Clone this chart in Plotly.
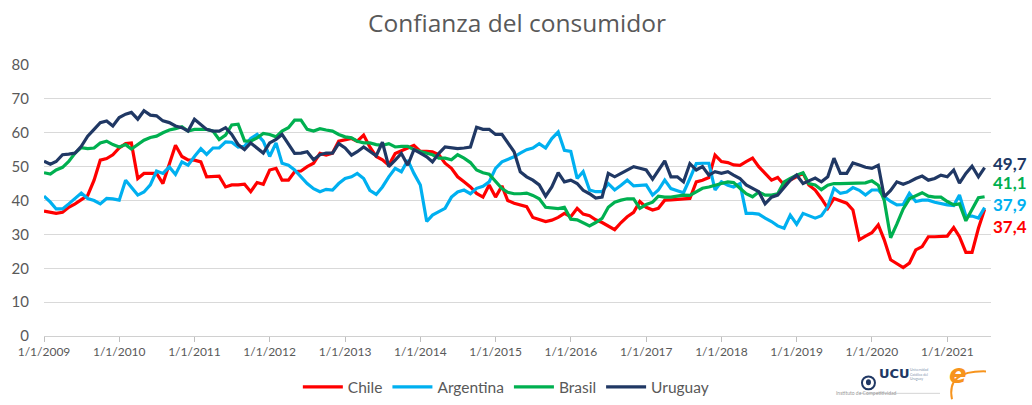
import pandas as pd
import plotly.graph_objects as go

# ---------------- data (monthly, Jan-2009 .. Jul-2021) ----------------
chile = [
    36.9, 36.5, 36.2, 36.5, 38.0, 39.0, 40.1, 41.5, 46.0, 51.9, 52.4, 53.5,
    55.5, 56.8, 57.0, 46.5, 48.0, 48.0, 48.0, 45.0, 50.4, 56.3, 53.0, 52.0,
    51.9, 51.4, 47.0, 47.2, 47.2, 44.0, 44.6, 44.6, 44.8, 42.6, 45.3, 44.8,
    49.0, 49.5, 46.0, 46.0, 48.5, 48.7, 50.0, 51.0, 53.9, 53.4, 54.0, 57.5,
    57.8, 58.3, 57.5, 59.3, 55.8, 53.0, 52.0, 50.4, 53.9, 54.8, 55.5, 56.3,
    54.5, 54.5, 54.4, 53.5, 51.0, 49.5, 47.0, 45.5, 44.0, 42.1, 41.0, 44.6,
    41.0, 44.3, 40.0, 39.2, 38.7, 38.2, 35.0, 34.5, 33.8, 34.2, 35.0, 36.2,
    35.2, 37.7, 36.0, 35.5, 34.3, 33.5, 32.5, 31.4, 33.5, 35.2, 36.5, 39.7,
    38.0, 37.2, 37.7, 40.1, 40.2, 40.4, 40.5, 40.6, 45.5, 46.0, 46.8, 53.4,
    51.5, 51.2, 50.5, 50.4, 51.5, 52.5, 50.0, 48.0, 46.0, 46.8, 44.6, 46.0,
    47.0, 48.0, 44.6, 43.1, 40.6, 37.7, 40.6, 40.0, 39.2, 37.2, 28.4, 29.5,
    30.5, 32.8, 28.4, 22.5, 21.5, 20.2, 21.5, 25.4, 26.4, 29.3, 29.3, 29.5,
    29.5, 32.0, 29.3, 24.7, 24.7, 31.8, 37.4,
]
argentina = [
    41.3, 39.5, 37.5, 37.5, 39.0, 40.5, 42.2, 40.6, 40.0, 39.0, 40.6, 40.5,
    40.1, 46.0, 44.0, 41.6, 42.5, 44.6, 48.7, 48.0, 49.9, 47.7, 51.4, 50.4,
    53.0, 55.3, 53.6, 55.5, 55.5, 57.3, 57.2, 55.8, 56.0, 58.3, 59.5, 57.5,
    53.0, 57.0, 51.0, 50.4, 49.0, 47.0, 45.0, 43.5, 42.6, 43.3, 43.1, 45.0,
    46.5, 47.0, 48.0, 46.5, 43.0, 41.8, 44.0, 47.0, 49.5, 48.5, 51.9, 48.0,
    44.6, 33.8, 35.7, 36.7, 37.7, 41.0, 42.5, 43.1, 42.0, 43.6, 44.2, 45.5,
    49.5, 51.4, 52.0, 52.9, 54.0, 55.0, 55.5, 56.8, 55.5, 58.3, 60.2, 54.8,
    54.5, 46.5, 48.5, 43.1, 42.6, 42.6, 45.0, 43.1, 44.5, 46.0, 44.3, 44.5,
    44.6, 41.6, 43.1, 46.0, 43.5, 42.9, 42.3, 46.5, 50.9, 51.0, 51.0, 43.1,
    45.5, 44.5, 44.0, 45.0, 36.2, 36.2, 36.0, 34.8, 33.8, 32.5, 31.8, 35.7,
    33.0, 36.2, 35.5, 34.8, 35.5, 38.2, 43.6, 42.1, 42.5, 43.8, 43.0, 41.6,
    43.1, 43.1, 41.1, 39.7, 38.7, 38.8, 42.1, 39.7, 40.1, 40.1, 39.5, 39.0,
    38.7, 38.5, 41.6, 35.4, 35.4, 34.8, 37.9,
]
brasil = [
    48.2, 47.8, 49.0, 49.8, 51.5, 54.0, 55.6, 55.3, 55.5, 57.0, 57.5, 56.5,
    55.8, 56.5, 55.2, 56.5, 57.8, 58.6, 59.0, 60.0, 60.8, 61.2, 61.8, 60.5,
    61.0, 61.0, 61.0, 60.5, 58.0, 59.3, 62.3, 62.5, 57.6, 57.5, 58.5, 59.8,
    59.5, 58.8, 60.5, 61.5, 63.7, 63.7, 61.0, 60.5, 61.2, 60.8, 60.5, 59.5,
    58.8, 58.5, 57.5, 57.0, 57.0, 56.5, 56.3, 56.8, 55.8, 56.0, 56.0, 55.0,
    54.5, 54.0, 53.5, 52.5, 52.5, 52.0, 53.5, 52.5, 51.2, 49.0, 48.2, 47.8,
    45.5, 43.5, 42.4, 42.0, 42.0, 42.2, 41.5, 40.5, 38.0, 37.7, 37.6, 38.0,
    34.5, 34.3, 33.5, 32.5, 33.5, 34.7, 38.0, 39.5, 40.1, 40.5, 40.5, 37.7,
    38.8, 39.5, 41.3, 41.0, 41.0, 41.3, 41.6, 41.5, 42.5, 43.6, 44.0, 44.6,
    45.0, 45.5, 45.3, 43.6, 42.0, 41.1, 42.5, 41.6, 41.6, 42.0, 45.5, 46.5,
    47.5, 48.2, 45.0, 44.6, 43.2, 44.5, 45.0, 45.0, 45.0, 45.0, 45.0, 45.2,
    45.8, 44.5, 40.0, 29.0, 33.0, 37.5, 40.5, 41.5, 42.3, 41.3, 41.0, 41.0,
    39.7, 38.7, 39.0, 34.0, 37.5, 40.8, 41.1,
]
uruguay = [
    51.6, 50.7, 51.5, 53.5, 53.7, 54.0, 56.0, 59.0, 61.0, 63.0, 63.5, 62.0,
    64.5, 65.5, 66.0, 64.0, 66.5, 65.2, 65.0, 63.5, 63.0, 62.0, 61.5, 60.5,
    64.0, 62.5, 61.0, 60.5, 60.5, 61.5, 59.5, 56.5, 55.0, 57.0, 55.5, 54.0,
    57.0, 58.0, 59.5, 56.5, 53.9, 54.0, 54.4, 52.0, 53.5, 54.0, 54.0, 56.8,
    55.5, 53.4, 54.4, 55.8, 54.5, 53.2, 57.2, 50.0, 51.9, 53.9, 50.4, 55.0,
    54.0, 52.9, 51.4, 53.9, 55.8, 55.5, 55.3, 55.5, 55.8, 61.6, 61.0, 61.0,
    59.5, 59.5, 57.0, 54.4, 48.5, 47.0, 46.0, 44.6, 41.3, 44.0, 48.2, 45.5,
    46.0, 45.0, 43.0, 42.0, 40.7, 41.0, 48.0, 47.0, 48.0, 49.0, 50.0, 49.5,
    49.0, 46.3, 49.0, 51.7, 47.0, 47.0, 45.5, 50.9, 49.0, 50.0, 47.5, 48.5,
    48.0, 48.5, 47.5, 46.5, 44.6, 43.5, 42.6, 39.0, 41.0, 41.6, 44.0, 46.0,
    47.5, 45.0, 45.8, 46.6, 45.5, 47.0, 52.5, 48.0, 48.0, 51.1, 50.5, 49.8,
    49.5, 50.4, 41.1, 43.0, 45.5, 44.8, 45.5, 46.5, 47.2, 46.0, 46.5, 47.5,
    47.0, 49.0, 45.1, 48.0, 50.1, 47.0, 49.7,
]
series_names = ["Chile", "Argentina", "Brasil", "Uruguay"]
series_values = [chile, argentina, brasil, uruguay]
series_colors = ["#FF0000", "#00B0F0", "#00B050", "#203864"]
end_label_shift = [-17, 3, 14, 4]   # vertical offsets (px) of the end labels

years = list(range(2009, 2022))
tick_dates = [f"{y}-01-01" for y in years]
tick_text = [f"1/1/{y}" for y in years]
y_ticks = list(range(0, 81, 10))

FONT = "Lato"
GREY = "#595959"

# ---------------- layout geometry ----------------
W, H = 1032, 405
PL, PR = 44.3, 991.0       # plot left/right (px)
PT, PB = 64.7, 336.5       # plot top/bottom (px)


def px(xp):
    return (xp - PL) / (PR - PL)


def py(yp):
    return (PB - yp) / (PB - PT)


fig = go.Figure()
for name, vals, col, dy in zip(series_names, series_values, series_colors, end_label_shift):
    dates = pd.date_range("2009-01-01", periods=len(vals), freq="MS")
    fig.add_trace(go.Scatter(
        x=dates, y=vals, mode="lines", name=name,
        line=dict(color=col, width=3.2), hoverinfo="x+y",
    ))
    fig.add_annotation(
        x=dates[-1], y=vals[-1], xref="x", yref="y",
        text=f"<b>{vals[-1]:.1f}</b>".replace(".", ","),
        showarrow=False, xanchor="left", yanchor="middle",
        xshift=7, yshift=dy, borderpad=0,
        font=dict(family=FONT, size=17, color=col),
    )

# logos (approximate)
fig.add_shape(type="circle", xref="paper", yref="paper",
              x0=px(862), x1=px(875), y0=py(390), y1=py(377),
              line=dict(color="#203864", width=2), fillcolor="white")
fig.add_shape(type="circle", xref="paper", yref="paper",
              x0=px(866), x1=px(871), y0=py(386), y1=py(380),
              line=dict(width=0), fillcolor="#203864")
fig.add_annotation(xref="paper", yref="paper", x=px(877), y=py(384),
                   text="<b>UCU</b>", showarrow=False, xanchor="left",
                   font=dict(family="DejaVu Sans", size=13, color="#203864"))
fig.add_annotation(xref="paper", yref="paper", x=px(908), y=py(384),
                   text="Universidad<br>Católica del<br>Uruguay", showarrow=False,
                   xanchor="left", align="left",
                   font=dict(family=FONT, size=3.5, color="#8496b0"))
fig.add_shape(type="line", xref="paper", yref="paper",
              x0=px(860), x1=px(940), y0=py(394), y1=py(394),
              line=dict(color="#c8c8c8", width=0.8))
fig.add_annotation(xref="paper", yref="paper", x=px(898), y=py(399),
                   text="Instituto de Competitividad", showarrow=False,
                   font=dict(family=FONT, size=5, color="#9a9a9a"))
fig.add_shape(type="path", xref="paper", yref="paper",
              path=f"M {px(952)},{py(400)} Q {px(946)},{py(371)} {px(986)},{py(372)}",
              line=dict(color="#F7941D", width=2))
fig.add_annotation(xref="paper", yref="paper", x=px(968), y=py(391),
                   text="<i><b>e</b></i>", showarrow=False, borderpad=0,
                   font=dict(family="DejaVu Sans", size=26, color="#F7941D"))

fig.update_layout(
    width=W, height=H,
    margin=dict(l=PL, r=W - PR, t=PT, b=H - PB, pad=0, autoexpand=False),
    paper_bgcolor="white", plot_bgcolor="white",
    title=dict(text="Confianza del consumidor", x=517 / W, xref="container",
               xanchor="center", y=1 - 23 / H, yref="container", yanchor="middle",
               font=dict(family="Open Sans", size=24.5, color=GREY)),
    showlegend=True,
    legend=dict(orientation="h", x=px(506), xanchor="center",
                y=py(388), yanchor="middle",
                font=dict(family=FONT, size=15.5, color=GREY),
                itemwidth=40, tracegroupgap=0, bgcolor="rgba(0,0,0,0)"),
    xaxis=dict(
        type="date", range=["2009-01-01", "2021-08-01"],
        tickvals=tick_dates, ticktext=tick_text,
        ticks="outside", ticklen=5, tickcolor="#bfbfbf", tickwidth=1,
        showline=True, linecolor="#d0d0d0", linewidth=1,
        showgrid=False, zeroline=False, automargin=False,
        tickfont=dict(family=FONT, size=12, color=GREY),
    ),
    yaxis=dict(
        range=[0, 80], tickvals=y_ticks,
        showgrid=True, gridcolor="#d9d9d9", gridwidth=1,
        zeroline=False, showline=False, ticks="", automargin=False,
        ticklabelstandoff=14,
        tickfont=dict(family=FONT, size=15, color=GREY),
    ),
)

# remove the browser's default page margin so the figure fills the window
fig.write_html(
    "out.html",
    config={"displayModeBar": False},
    post_script="document.body.style.margin='0';document.body.style.overflow='hidden';",
)
